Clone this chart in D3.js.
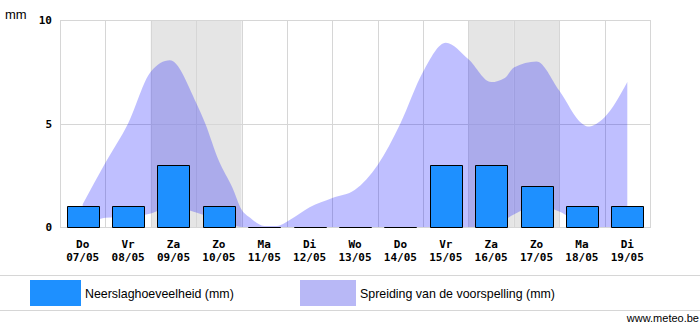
<!DOCTYPE html>
<html>
<head>
<meta charset="utf-8">
<script src="https://cdn.jsdelivr.net/npm/d3@7"></script>
<style>
body { margin: 0; background: #fff; }
svg { display: block; }
.lbl { font: bold 11px "DejaVu Sans Mono", monospace; fill: #000; }
.leg { font: 12.4px "Liberation Sans", Arial, sans-serif; fill: #000; }
</style>
</head>
<body>
<script>
// forecast days
var dayNames = ["Do", "Vr", "Za", "Zo", "Ma", "Di", "Wo", "Do", "Vr", "Za", "Zo", "Ma", "Di"];
var dates = ["07/05", "08/05", "09/05", "10/05", "11/05", "12/05", "13/05", "14/05", "15/05", "16/05", "17/05", "18/05", "19/05"];
var rain = [1, 1, 3, 1, 0, 0, 0, 0, 3, 3, 2, 1, 1];
var weekend = [2, 3, 9, 10];
var yTicks = [0, 5, 10];

// spread of the forecast, position in days from the first day
var spreadPos  = [0, 0.5, 1, 1.5, 1.92, 2.5, 2.7, 3, 3.3, 3.5, 3.69, 4, 4.28, 4.57, 5, 5.5, 6, 6.5, 7, 7.5, 8, 8.5, 9, 9.3, 9.5, 10, 10.5, 11, 11.13, 11.5, 12];
var spreadHigh = [1.1, 3.1, 5.0, 7.5, 8.05, 6.0, 5.0, 3.2, 1.9, 0.85, 0.45, 0.05, 0.05, 0.35, 0.95, 1.4, 1.8, 3.0, 5.0, 7.5, 8.9, 8.1, 7.0, 7.2, 7.7, 8.0, 6.6, 5.0, 4.85, 5.3, 7.0];
var spreadLow  = [0, 0.45, 0.5, 0.65, 0.95, 0.7, 0.55, 0.35, 0.1, 0, 0, 0, 0, 0, 0, 0, 0, 0, 0, 0, 0, 0, 0, 0.35, 0.6, 1.0, 0.75, 0.1, 0, 0, 0];

var W = 700, H = 327
  , pl = 60, pr = 650, pt = 20, pb = 227;

var svg = d3.select('body').append('svg').attr('width', W).attr('height', H);

var x = d3.scaleBand().domain(d3.range(dayNames.length)).range([pl, pr])
  , bw = x.bandwidth()
  , xPos = d3.scaleLinear().domain([0, dayNames.length - 1]).range([pl + bw / 2, pr - bw / 2])
  , y = d3.scaleLinear().domain([0, 10]).range([pb, pt]);

// weekend columns
svg.append('g').selectAll('rect').data(weekend).enter().append('rect')
    .attr('x', d => x(d)).attr('y', pt).attr('width', bw).attr('height', pb - pt)
    .attr('fill', '#e5e5e5');

// grid
var grid = svg.append('g').attr('stroke', '#d6d6d6').attr('shape-rendering', 'crispEdges');
grid.selectAll('.v').data(d3.range(dayNames.length + 1)).enter().append('line')
    .attr('x1', d => Math.round(pl + d * bw) + 0.5).attr('x2', d => Math.round(pl + d * bw) + 0.5)
    .attr('y1', pt).attr('y2', pb);
grid.selectAll('.h').data(yTicks).enter().append('line')
    .attr('x1', pl).attr('x2', pr + 1)
    .attr('y1', d => Math.round(y(d)) + 0.5).attr('y2', d => Math.round(y(d)) + 0.5);

// spread area
var area = d3.area()
    .x((d, i) => xPos(spreadPos[i]))
    .y0((d, i) => y(spreadLow[i]))
    .y1(d => y(d))
    .curve(d3.curveMonotoneX);
svg.append('path').datum(spreadHigh).attr('d', area).attr('fill', 'rgba(0,0,255,0.25)');

// bars (paths so that the zero days still show a line)
svg.append('g').selectAll('path').data(rain).enter().append('path')
    .attr('d', function(d, i) {
        var c = x(i) + bw / 2
          , x0 = Math.round(c - 16) + 0.5
          , x1 = Math.round(c + 16) + 0.5
          , y0 = Math.round(y(0)) + 0.5
          , y1 = Math.round(y(d)) + 0.5;
        return `M${x0},${y0}V${y1}H${x1}V${y0}Z`;
    })
    .attr('fill', '#1e90ff').attr('stroke', '#000').attr('stroke-width', 1);

// y axis labels
var yAxis = d3.axisLeft(y).tickValues(yTicks).tickSize(0).tickPadding(8);
var gy = svg.append('g').attr('transform', `translate(${pl},0)`).call(yAxis);
gy.select('.domain').remove();
gy.attr('font-family', null).attr('font-size', null);
gy.selectAll('text').attr('class', 'lbl').attr('fill', null);

svg.append('text').attr('x', 5).attr('y', 19).text('mm')
    .style('font', '13px "Liberation Sans", Arial, sans-serif');

// x labels
var xl = svg.append('g').selectAll('g').data(dayNames).enter().append('g')
    .attr('transform', (d, i) => `translate(${x(i) + bw / 2},0)`);
xl.append('text').attr('class', 'lbl').attr('text-anchor', 'middle').attr('y', 248).text(d => d);
xl.append('text').attr('class', 'lbl').attr('text-anchor', 'middle').attr('y', 261).text((d, i) => dates[i]);

// legend
svg.append('line').attr('x1', 0).attr('x2', W).attr('y1', 275.5).attr('y2', 275.5).attr('stroke', '#d6d6d6');
svg.append('line').attr('x1', 0).attr('x2', W).attr('y1', 310.5).attr('y2', 310.5).attr('stroke', '#d6d6d6');
svg.append('rect').attr('x', 30).attr('y', 280).attr('width', 51).attr('height', 26).attr('fill', '#1e90ff');
svg.append('text').attr('class', 'leg').attr('x', 85).attr('y', 298).text('Neerslaghoeveelheid (mm)');
svg.append('rect').attr('x', 300).attr('y', 280).attr('width', 56).attr('height', 26).attr('fill', '#b8b8f6');
svg.append('text').attr('class', 'leg').attr('x', 360).attr('y', 298).text('Spreiding van de voorspelling (mm)');
svg.append('text').attr('x', 699).attr('y', 322).attr('text-anchor', 'end').text('www.meteo.be')
    .style('font', '11px "Liberation Sans", Arial, sans-serif');
</script>
</body>
</html>
